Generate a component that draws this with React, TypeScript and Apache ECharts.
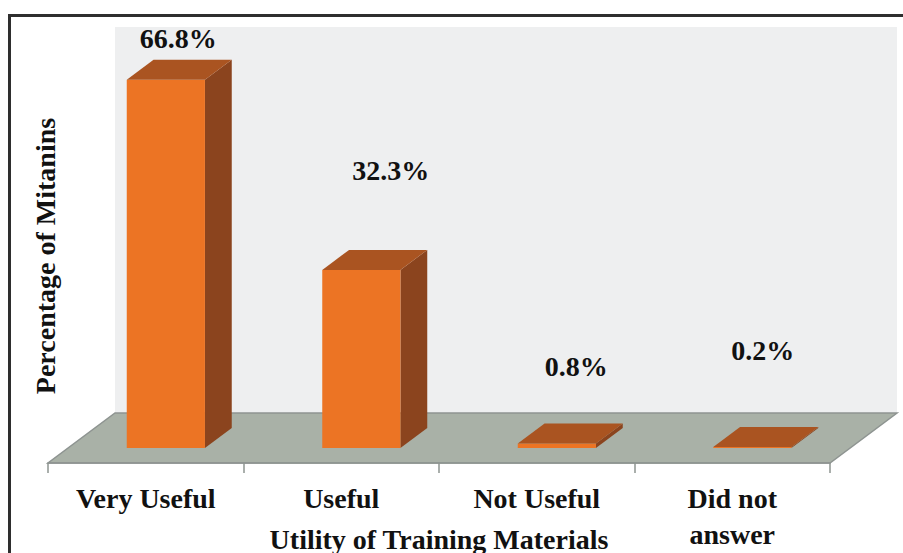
import React, { useEffect, useRef } from "react";
import * as echarts from "echarts";

const categories = ["Very Useful", "Useful", "Not Useful", "Did not\nanswer"];
const percentages = [66.8, 32.3, 0.8, 0.2];
const valueLabels = ["66.8%", "32.3%", "0.8%", "0.2%"];
// label centre height (value units above the bar base) and sideways nudge, as placed in the reference
const labelHeights = [74.2, 50.3, 14.8, 17.7];
const labelShiftX = [-1, 16, 6, -3];

const FONT = '"Liberation Serif", "Times New Roman", serif';
const DEPTH_X = 67;
const DEPTH_Y = 50;
const BAR_FRONT = 0.3; // depth fraction of bar front face
const BAR_DEPTH = 0.4; // depth fraction of bar thickness
const BAR_WIDTH = 0.4; // fraction of category width

export default function App() {
  const ref = useRef<HTMLDivElement>(null);
  useEffect(() => {
    if (!ref.current) return;
    const chart = echarts.init(ref.current, undefined, { renderer: "svg" });

    const renderBackground = (params: any) => {
      const cs = params.coordSys;
      const x0 = cs.x, x1 = cs.x + cs.width, yb = cs.y + cs.height;
      return {
        type: "group",
        children: [
          {
            type: "rect",
            shape: { x: x0 + DEPTH_X, y: cs.y - DEPTH_Y, width: cs.width, height: cs.height },
            style: { fill: "#EEEFF0" },
          },
          {
            type: "polygon",
            shape: {
              points: [
                [x0, yb],
                [x1, yb],
                [x1 + DEPTH_X, yb - DEPTH_Y],
                [x0 + DEPTH_X, yb - DEPTH_Y],
              ],
            },
            style: { fill: "#A9B1A7", stroke: "#8E9491", lineWidth: 1.5 },
          },
        ],
      };
    };

    const renderBar = (params: any, api: any) => {
      const i = api.value(0);
      const v = api.value(1);
      const base = api.coord([i, 0]);
      const top = api.coord([i, v]);
      const cw = api.size([1, 0])[0];
      const bw = cw * BAR_WIDTH;
      const shiftX = DEPTH_X * BAR_FRONT;
      const shiftY = DEPTH_Y * BAR_FRONT;
      const ddx = DEPTH_X * BAR_DEPTH;
      const ddy = DEPTH_Y * BAR_DEPTH;
      const fx = base[0] + shiftX - bw / 2;
      const bottom = base[1] - shiftY;
      const topY = top[1] - shiftY;
      const lx = base[0] + shiftX + ddx / 2 + labelShiftX[i];
      const ly = api.coord([i, labelHeights[i]])[1] - shiftY;
      return {
        type: "group",
        children: [
          {
            type: "polygon",
            shape: {
              points: [
                [fx + bw, topY],
                [fx + bw + ddx, topY - ddy],
                [fx + bw + ddx, bottom - ddy],
                [fx + bw, bottom],
              ],
            },
            style: { fill: "#8B441E" },
          },
          {
            type: "rect",
            shape: { x: fx, y: topY, width: bw, height: Math.max(bottom - topY, 0.6) },
            style: { fill: "#EC7424" },
          },
          {
            type: "polygon",
            shape: {
              points: [
                [fx, topY],
                [fx + bw, topY],
                [fx + bw + ddx, topY - ddy],
                [fx + ddx, topY - ddy],
              ],
            },
            style: { fill: "#AA5421" },
          },
          {
            type: "text",
            x: lx,
            y: ly,
            style: {
              text: valueLabels[i],
              fill: "#111",
              font: `bold 28px ${FONT}`,
              align: "center",
              verticalAlign: "middle",
            },
          },
        ],
      };
    };

    chart.setOption({
      animation: false,
      backgroundColor: "#ffffff",
      grid: { left: 48, right: 73, top: 77, bottom: 90, outerBoundsMode: "none", containLabel: false },
      graphic: [
        {
          type: "rect",
          z: 100,
          silent: true,
          shape: { x: 9.5, y: 15.5, width: 1000, height: 1000 },
          style: { fill: "none", stroke: "#2E2E2E", lineWidth: 3 },
        },
      ],
      xAxis: {
        type: "category",
        data: categories,
        z: 10,
        name: "Utility of Training Materials",
        nameLocation: "middle",
        nameGap: 62,
        nameMoveOverlap: false,
        nameTextStyle: { fontFamily: FONT, fontWeight: "bold", fontSize: 28, color: "#111" },
        axisLine: { show: true, lineStyle: { color: "#8E9491", width: 1.5 } },
        axisTick: { show: true, length: 10, lineStyle: { color: "#8E9491", width: 1.5 } },
        axisLabel: {
          interval: 0,
          margin: 17,
          fontFamily: FONT,
          fontWeight: "bold",
          fontSize: 28,
          lineHeight: 36,
          color: "#111",
        },
        splitLine: { show: false },
      },
      yAxis: {
        type: "value",
        min: 0,
        max: 70,
        name: "Percentage of Mitanins",
        nameLocation: "middle",
        nameRotate: 90,
        nameGap: -11,
        nameMoveOverlap: false,
        nameTextStyle: {
          fontFamily: FONT,
          fontWeight: "bold",
          fontSize: 28,
          color: "#111",
          padding: [0, 0, 0, 28],
        },
        axisLine: { show: false },
        axisTick: { show: false },
        axisLabel: { show: false },
        splitLine: { show: false },
      },
      series: [
        {
          type: "custom",
          z: 1,
          silent: true,
          clip: false,
          renderItem: renderBackground,
          data: [[0, 0]],
        },
        {
          type: "custom",
          z: 3,
          silent: true,
          clip: false,
          renderItem: renderBar,
          data: categories.map((_, i) => [i, percentages[i]]),
        },
      ],
    });
    return () => chart.dispose();
  }, []);

  return (
    <div
      ref={ref}
      style={{ position: "fixed", left: 0, top: 0, width: 903, height: 553, background: "#fff" }}
    />
  );
}
